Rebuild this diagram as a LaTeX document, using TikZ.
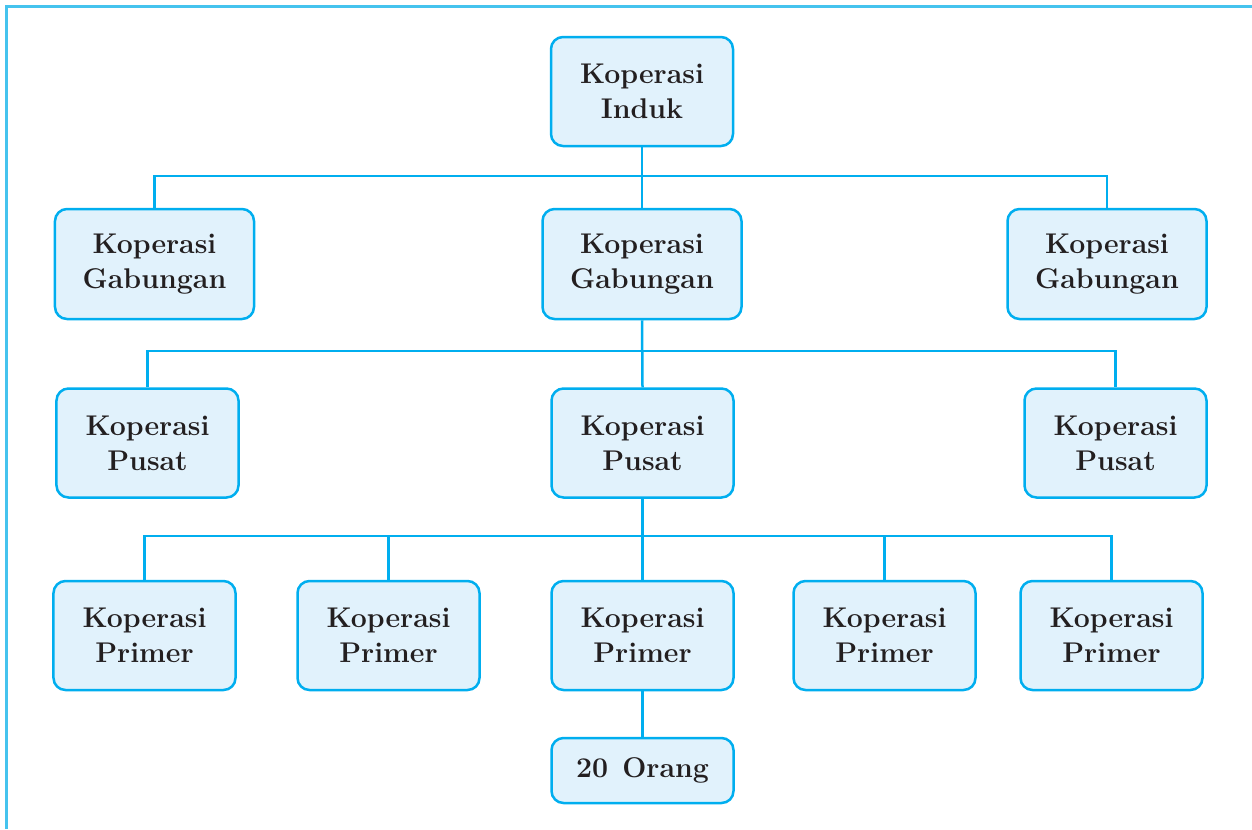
\documentclass[tikz,border=0pt]{standalone}
\usepackage{tikz}
\usetikzlibrary{positioning}
\definecolor{kline}{HTML}{00AEEF}
\definecolor{kfill}{HTML}{E1F2FC}
\definecolor{kframe}{HTML}{45C3EE}
\definecolor{ktext}{HTML}{231F20}

\begin{document}
\begin{tikzpicture}[x=0.5bp,y=-0.5bp,
		box/.style={draw=kline,fill=kfill,line width=1.25bp,rounded corners=6bp,
			minimum width=91bp,minimum height=54.5bp,inner sep=0pt,align=center,
			text=ktext,font=\fontsize{14.3}{17.5}\selectfont\bfseries},
		wide/.style={minimum width=99.5bp,minimum height=55bp},
		link/.style={draw=kline,line width=1.25bp}]
		\useasboundingbox (0,0) rectangle (1252,829);
		\draw[kframe,line width=1.5bp] (6,829) -- (6,6) -- (1252,6);
		% levels
		\node[box] (induk) at (642,91.5) {Koperasi\\Induk};
		\node[box,wide] (gabL) at (154.5,264) {Koperasi\\Gabungan};
		\node[box,wide] (gabM) at (642,264) {Koperasi\\Gabungan};
		\node[box,wide] (gabR) at (1107,264) {Koperasi\\Gabungan};
		\node[box] (pusL) at (147.5,443) {Koperasi\\Pusat};
		\node[box] (pusM) at (642.5,443) {Koperasi\\Pusat};
		\node[box] (pusR) at (1115.5,443) {Koperasi\\Pusat};
		\node[box] (pri1) at (144.5,635.5) {Koperasi\\Primer};
		\node[box] (pri2) at (388.5,635.5) {Koperasi\\Primer};
		\node[box] (pri3) at (642.5,635.5) {Koperasi\\Primer};
		\node[box] (pri4) at (884.5,635.5) {Koperasi\\Primer};
		\node[box] (pri5) at (1111.5,635.5) {Koperasi\\Primer};
		\node[box,minimum height=32.5bp] (orang) at (642.5,770.5) {20\enspace Orang};
		% bus lines
		\coordinate (busA) at (642,176);
		\coordinate (busB) at (642,351);
		\coordinate (busC) at (642,536);
		\draw[link] (induk.south) -- (gabM.north);
		\draw[link] (gabL.north) |- (busA) -| (gabR.north);
		\draw[link] (gabM.south) -- (pusM.north);
		\draw[link] (pusL.north) |- (busB) -| (pusR.north);
		\draw[link] (pusM.south) -- (pri3.north);
		\draw[link] (pri1.north) |- (busC) -| (pri5.north);
		\draw[link] (pri2.north) -- (pri2.north |- busC);
		\draw[link] (pri4.north) -- (pri4.north |- busC);
		\draw[link] (pri3.south) -- (orang.north);
\end{tikzpicture}
\end{document}
